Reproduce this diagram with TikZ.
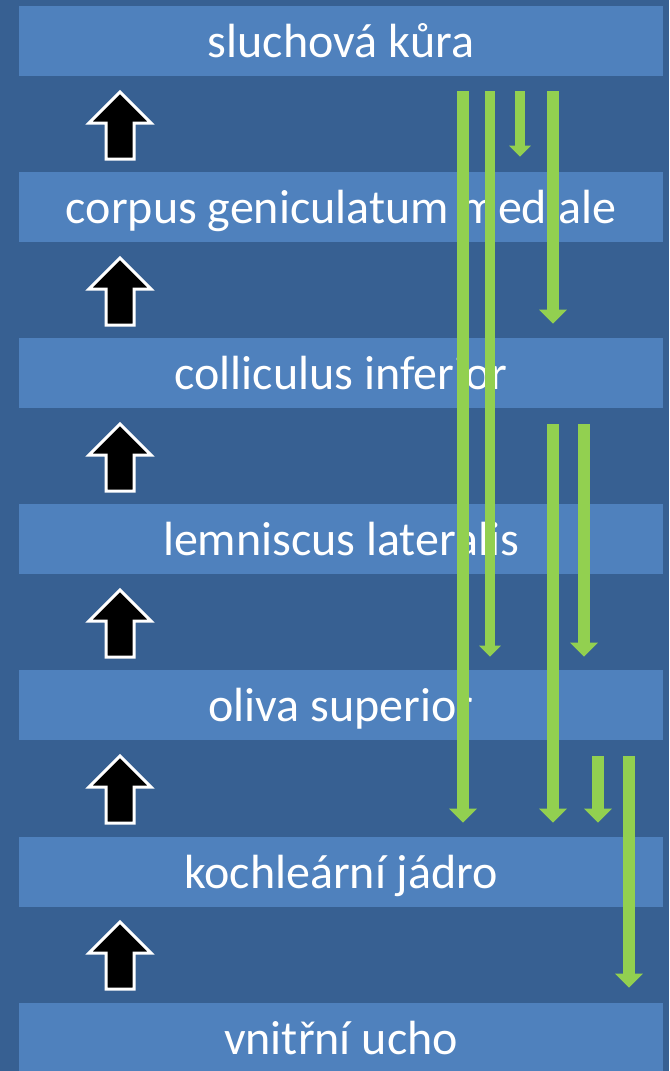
\documentclass[tikz,border=0pt]{standalone}
\usepackage{fontspec}
\setmainfont{Carlito}
\usepackage{tikz}
\usetikzlibrary{arrows.meta,calc}
\definecolor{deepblue}{RGB}{55,96,146}
\definecolor{barblue}{RGB}{79,129,189}
\definecolor{leafgreen}{RGB}{146,208,80}

\begin{document}
\begin{tikzpicture}[x=0.75pt, y=-0.75pt,
    bar/.style={rectangle, fill=barblue, text=white, inner sep=0pt,
      minimum width=483pt, minimum height=52.5pt,
      text height=26.5pt, text depth=2pt,
      font=\fontsize{36}{43}\selectfont},
    gfat/.style={draw=leafgreen, line width=9.4pt,
      -{Triangle[width=20.25pt, length=10.5pt]}},
    gthin/.style={draw=leafgreen, line width=7.7pt,
      -{Triangle[width=15.75pt, length=8.3pt]}},
    upblock/.style={fill=black, draw=white, line width=2.25pt, line join=miter}]
        % background
        \fill[deepblue] (0,0) rectangle (669,1071);
        \useasboundingbox (0,0) rectangle (669,1071);

        % stations of the pathway
        \node[bar] (kura) at (341,41) {sluchová kůra};
        \node[bar] (corpus) at (341,207) {corpus geniculatum mediale};
        \node[bar] (coll) at (341,373) {colliculus inferior};
        \node[bar] (lemn) at (341,539) {lemniscus lateralis};
        \node[bar] (oliva) at (341,705) {oliva superior};
        \node[bar] (koch) at (341,872) {kochleární jádro};
        \node[bar] (ucho) at (341,1038) {vnitřní ucho};

        % ascending block arrows
        \foreach \k in {0,...,5}{
          \begin{scope}[shift={(0,166*\k)}]
            \draw[upblock] (120,92) -- (151,123) -- (134,123) -- (134,159)
              -- (106,159) -- (106,123) -- (89,123) -- cycle;
          \end{scope}
        }

        % descending pathways
        \coordinate (ga) at (463,0);
        \coordinate (gb) at (490,0);
        \coordinate (gc) at (520,0);
        \coordinate (gd) at (553,0);
        \coordinate (ge) at (584,0);
        \coordinate (gf) at (598,0);
        \coordinate (gg) at (629,0);
        \draw[gfat, shorten <=11.25pt, shorten >=10.5pt]
          (ga |- kura.south) -- (ga |- koch.north);
        \draw[gthin, shorten <=11.25pt, shorten >=9.75pt]
          (gb |- kura.south) -- (gb |- oliva.north);
        \draw[gthin, shorten <=11.25pt, shorten >=11.25pt]
          (gc |- kura.south) -- (gc |- corpus.north);
        \draw[gfat, shorten <=11.25pt, shorten >=10.5pt]
          (gd |- kura.south) -- (gd |- coll.north);
        \draw[gfat, shorten <=12pt, shorten >=10.5pt]
          (gd |- coll.south) -- (gd |- koch.north);
        \draw[gfat, shorten <=12pt, shorten >=9.75pt]
          (ge |- coll.south) -- (ge |- oliva.north);
        \draw[gfat, shorten <=12pt, shorten >=10.5pt]
          (gf |- oliva.south) -- (gf |- koch.north);
        \draw[gfat, shorten <=12pt, shorten >=11.25pt]
          (gg |- oliva.south) -- (gg |- ucho.north);
      \end{tikzpicture}
\end{document}
